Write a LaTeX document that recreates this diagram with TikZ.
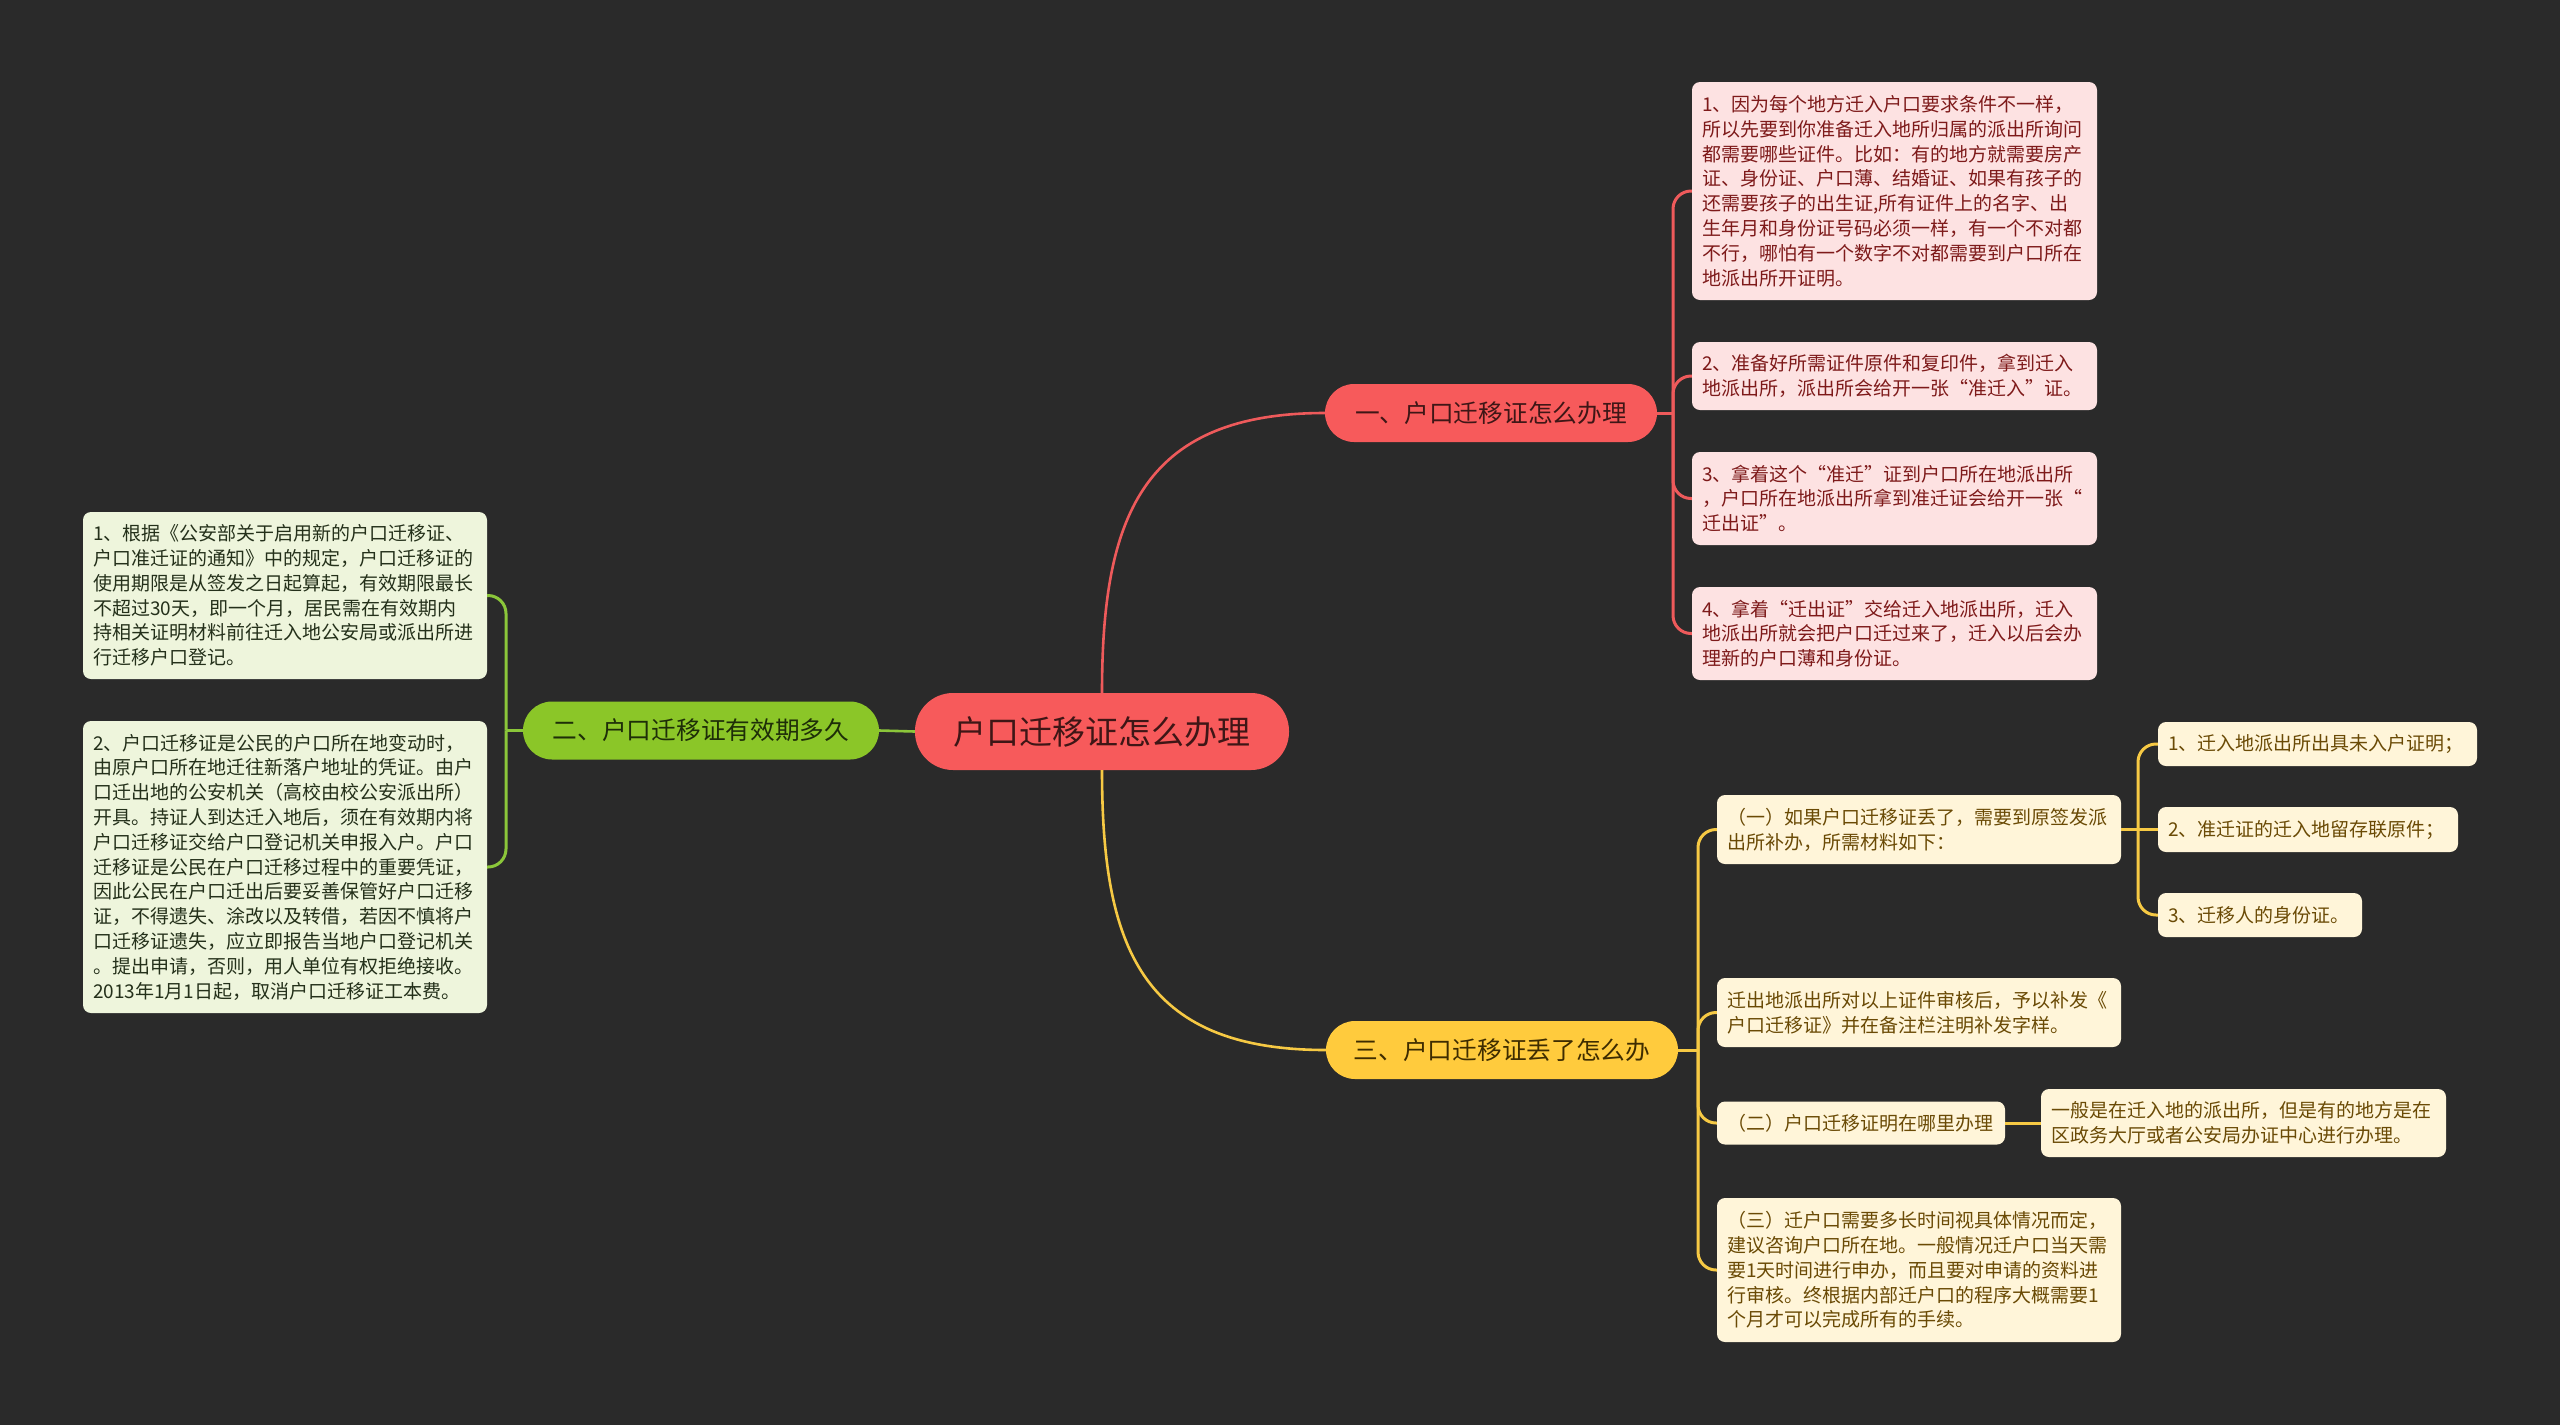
\documentclass[tikz,border=0pt]{standalone}
\usepackage{fontspec}
\setmainfont{Noto Sans CJK SC}
\definecolor{bg}{HTML}{2A2A2A}
\definecolor{redmain}{HTML}{F75A5B}
\definecolor{redline}{HTML}{EE5A5B}
\definecolor{redtext}{HTML}{3E1616}
\definecolor{pinkfill}{HTML}{FDE2E2}
\definecolor{pinktext}{HTML}{7E1A1A}
\definecolor{greenmain}{HTML}{8BC628}
\definecolor{greenline}{HTML}{8BC63A}
\definecolor{greentext}{HTML}{1E2E08}
\definecolor{greenfill}{HTML}{EEF5DC}
\definecolor{greenleaftext}{HTML}{24301A}
\definecolor{yellowmain}{HTML}{FFCB3D}
\definecolor{yellowline}{HTML}{F6C944}
\definecolor{yellowtext}{HTML}{3E2C00}
\definecolor{yellowfill}{HTML}{FFF5D9}
\definecolor{yellowleaftext}{HTML}{6A4A05}
\begin{document}
\begin{tikzpicture}[x=1pt,y=-1pt,
  leafbox/.style={rounded corners=8pt, inner xsep=10pt, inner ysep=0pt, align=left,
    anchor=center, font=\fontsize{19pt}{24.8pt}\selectfont},
  pinkleaf/.style={leafbox, fill=pinkfill, text=pinktext},
  greenleaf/.style={leafbox, fill=greenfill, text=greenleaftext},
  yellowleaf/.style={leafbox, fill=yellowfill, text=yellowleaftext},
  branchbox/.style={rounded corners=29pt, inner sep=0pt, anchor=center, align=center,
    minimum height=58pt, font=\fontsize{24.7pt}{30pt}\selectfont},
  rootbox/.style={rounded corners=38pt, inner sep=0pt, anchor=center, align=center,
    minimum height=77pt, minimum width=374pt, fill=redmain, text=redtext,
    font=\fontsize{33pt}{40pt}\selectfont},
  redconn/.style={draw=redline, line width=3pt, rounded corners=18pt},
  greenconn/.style={draw=greenline, line width=3pt, rounded corners=18pt},
  yellowconn/.style={draw=yellowline, line width=3pt, rounded corners=18pt},
  maincurve/.style={line width=2.6pt}
]
\useasboundingbox (0,0) rectangle (2560,1425);
\fill[bg] (0,0) rectangle (2560,1425);

% root
\node[rootbox] (root) at (1102,731.5) {户口迁移证怎么办理};

% branches
\node[branchbox, fill=redmain, text=redtext, minimum width=332pt] (b1) at (1491,413) {一、户口迁移证怎么办理};
\node[branchbox, fill=greenmain, text=greentext, minimum width=356pt] (b2) at (701,730.5) {二、户口迁移证有效期多久};
\node[branchbox, fill=yellowmain, text=yellowtext, minimum width=352pt] (b3) at (1502,1050) {三、户口迁移证丢了怎么办};

% branch 1 leaves
\node[pinkleaf, text width=385pt, minimum height=218pt] (l1) at (1894.5,191) {1、因为每个地方迁入户口要求条件不一样，\\所以先要到你准备迁入地所归属的派出所询问\\都需要哪些证件。比如：有的地方就需要房产\\证、身份证、户口薄、结婚证、如果有孩子的\\还需要孩子的出生证,所有证件上的名字、出\\生年月和身份证号码必须一样，有一个不对都\\不行，哪怕有一个数字不对都需要到户口所在\\地派出所开证明。};
\node[pinkleaf, text width=385pt, minimum height=68pt] (l2) at (1894.5,376) {2、准备好所需证件原件和复印件，拿到迁入\\地派出所，派出所会给开一张“准迁入”证。};
\node[pinkleaf, text width=385pt, minimum height=93pt] (l3) at (1894.5,498.5) {3、拿着这个“准迁”证到户口所在地派出所\\，户口所在地派出所拿到准迁证会给开一张“\\迁出证”。};
\node[pinkleaf, text width=385pt, minimum height=93pt] (l4) at (1894.5,633.5) {4、拿着“迁出证”交给迁入地派出所，迁入\\地派出所就会把户口迁过来了，迁入以后会办\\理新的户口薄和身份证。};

% branch 2 leaves
\node[greenleaf, text width=384pt, minimum height=167pt] (g1) at (285,595.5) {1、根据《公安部关于启用新的户口迁移证、\\户口准迁证的通知》中的规定，户口迁移证的\\使用期限是从签发之日起算起，有效期限最长\\不超过30天，即一个月，居民需在有效期内\\持相关证明材料前往迁入地公安局或派出所进\\行迁移户口登记。};
\node[greenleaf, text width=384pt, minimum height=292pt] (g2) at (285,867) {2、户口迁移证是公民的户口所在地变动时，\\由原户口所在地迁往新落户地址的凭证。由户\\口迁出地的公安机关（高校由校公安派出所）\\开具。持证人到达迁入地后，须在有效期内将\\户口迁移证交给户口登记机关申报入户。户口\\迁移证是公民在户口迁移过程中的重要凭证，\\因此公民在户口迁出后要妥善保管好户口迁移\\证，不得遗失、涂改以及转借，若因不慎将户\\口迁移证遗失，应立即报告当地户口登记机关\\。提出申请，否则，用人单位有权拒绝接收。\\2013年1月1日起，取消户口迁移证工本费。};

% branch 3 leaves
\node[yellowleaf, text width=384pt, minimum height=69pt] (y1) at (1919,829.5) {（一）如果户口迁移证丢了，需要到原签发派\\出所补办，所需材料如下：};
\node[yellowleaf, text width=299pt, minimum height=44pt] (y1a) at (2317.5,744) {1、迁入地派出所出具未入户证明；};
\node[yellowleaf, text width=280pt, minimum height=45pt] (y1b) at (2308,829.5) {2、准迁证的迁入地留存联原件；};
\node[yellowleaf, text width=184pt, minimum height=44pt] (y1c) at (2260,915) {3、迁移人的身份证。};
\node[yellowleaf, text width=384pt, minimum height=69pt] (y2) at (1919,1012.5) {迁出地派出所对以上证件审核后，予以补发《\\户口迁移证》并在备注栏注明补发字样。};
\node[yellowleaf, text width=268pt, minimum height=43pt] (y3) at (1861,1123) {（二）户口迁移证明在哪里办理};
\node[yellowleaf, text width=385pt, minimum height=68pt] (y3a) at (2243.5,1123) {一般是在迁入地的派出所，但是有的地方是在\\区政务大厅或者公安局办证中心进行办理。};
\node[yellowleaf, text width=384pt, minimum height=144pt] (y4) at (1919,1270) {（三）迁户口需要多长时间视具体情况而定，\\建议咨询户口所在地。一般情况迁户口当天需\\要1天时间进行申办，而且要对申请的资料进\\行审核。终根据内部迁户口的程序大概需要1\\个月才可以完成所有的手续。};

% junctions
\coordinate (j1) at (1673,413);
\coordinate (j2) at (506,730.5);
\coordinate (j3) at (1698,1050);
\coordinate (j4) at (2138,829.5);

% root to branches
\draw[maincurve, redline] (root.north) .. controls (1102,520) and (1140,413) .. (b1.west);
\draw[maincurve, yellowline] (root.south) .. controls (1102,945) and (1140,1050) .. (b3.west);
\draw[maincurve, greenline] (root.west) -- (b2.east);

% branch 1 connectors
\draw[redconn] (b1.east) -- (j1);
\draw[redconn] (j1) |- (l1.west);
\draw[redconn] (j1) |- (l2.west);
\draw[redconn] (j1) |- (l3.west);
\draw[redconn] (j1) |- (l4.west);

% branch 2 connectors
\draw[greenconn] (b2.west) -- (j2);
\draw[greenconn] (j2) |- (g1.east);
\draw[greenconn] (j2) |- (g2.east);

% branch 3 connectors
\draw[yellowconn] (b3.east) -- (j3);
\draw[yellowconn] (j3) |- (y1.west);
\draw[yellowconn] (j3) |- (y2.west);
\draw[yellowconn] (j3) |- (y3.west);
\draw[yellowconn] (j3) |- (y4.west);
\draw[yellowconn] (y1.east) -- (j4);
\draw[yellowconn] (j4) |- (y1a.west);
\draw[yellowconn] (j4) -- (y1b.west);
\draw[yellowconn] (j4) |- (y1c.west);
\draw[yellowconn] (y3.east) -- (y3a.west);
\end{tikzpicture}
\end{document}
